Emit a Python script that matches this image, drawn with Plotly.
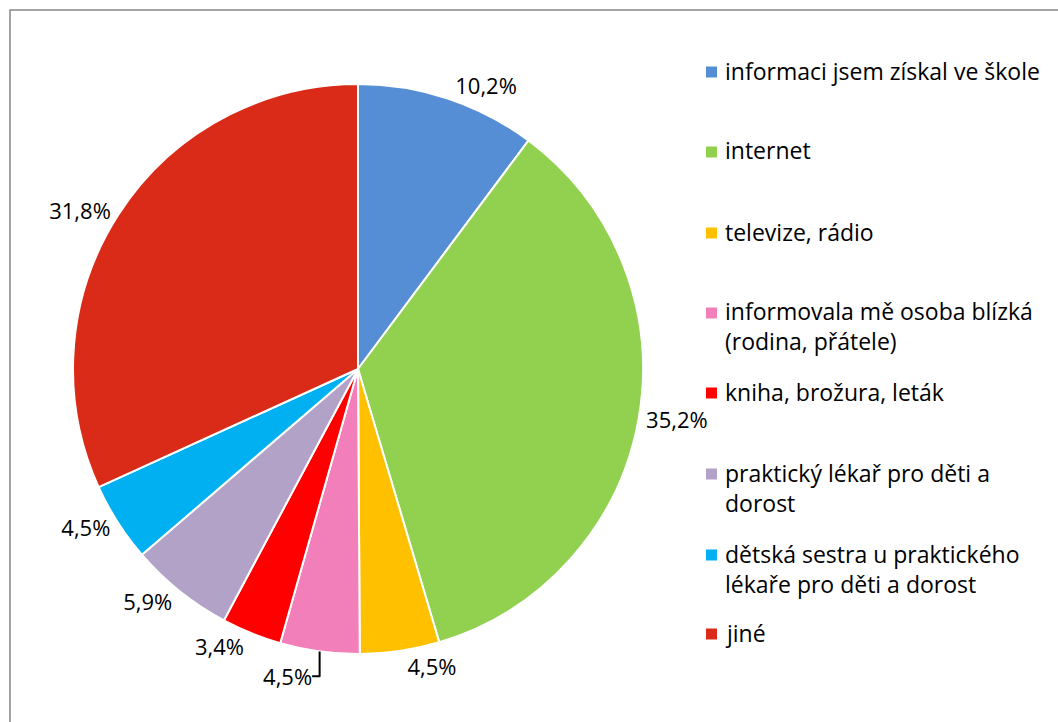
import plotly.graph_objects as go

# Zdroje informací – podíl odpovědí (%)
categories = [
    "informaci jsem získal ve škole",
    "internet",
    "televize, rádio",
    "informovala mě osoba blízká<br>(rodina, přátele)",
    "kniha, brožura, leták",
    "praktický lékař pro děti a<br>dorost",
    "dětská sestra u praktického<br>lékaře pro děti a dorost",
    "jiné",
]
values = [10.2, 35.2, 4.5, 4.5, 3.4, 5.9, 4.5, 31.8]
colors = ["#558ED5", "#92D050", "#FFC000", "#F27FBA",
          "#FF0000", "#B3A2C7", "#00B0F0", "#D92B17"]

# legend entry rows (paper y of the first text line), Excel-style spacing
legend_rows = [72, 152, 233, 313, 393, 474, 555, 634]

W, H = 1058, 722
cx, cy, R = 358, 369, 285
FONT = "Open Sans"

labels_txt = [f"{v:.1f}".replace(".", ",") + "%" for v in values]

fig = go.Figure(go.Pie(
    labels=categories,
    values=values,
    text=labels_txt,
    texttemplate="%{text}",
    textposition="outside",
    textfont=dict(family=FONT, size=22, color="#000000"),
    marker=dict(colors=colors, line=dict(color="#FFFFFF", width=2)),
    sort=False,
    direction="clockwise",
    rotation=0,
    showlegend=False,
    hoverinfo="label+percent",
    domain=dict(x=[(cx - R) / W, (cx + R) / W],
                y=[1 - (cy + R) / H, 1 - (cy - R) / H]),
))

shapes = [dict(type="rect", xref="paper", yref="paper",
               x0=10 / W, x1=1.02, y0=-0.02, y1=1 - 10 / H,
               line=dict(color="#868686", width=1.5), fillcolor="rgba(0,0,0,0)")]
annotations = []
for name, col, ry in zip(categories, colors, legend_rows):
    shapes.append(dict(type="rect", xref="paper", yref="paper",
                       x0=706 / W, x1=717 / W,
                       y0=1 - (ry + 5.5) / H, y1=1 - (ry - 5.5) / H,
                       line=dict(width=0), fillcolor=col))
    annotations.append(dict(text=name, xref="paper", yref="paper",
                            x=723 / W, y=1 - (ry - 19.5) / H,
                            xanchor="left", yanchor="top", align="left",
                            showarrow=False,
                            font=dict(family=FONT, size=23, color="#000000")))

fig.update_layout(
    width=W, height=H,
    margin=dict(l=0, r=0, t=0, b=0),
    paper_bgcolor="#FFFFFF",
    shapes=shapes,
    annotations=annotations,
)

fig.write_html("out.html")
